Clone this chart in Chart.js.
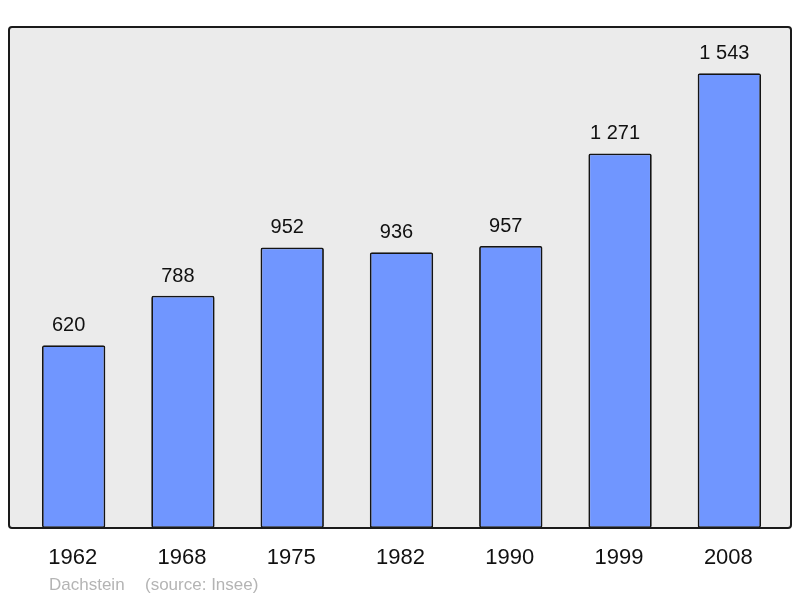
<!DOCTYPE html>
<html>
<head>
<meta charset="utf-8">
<script src="https://cdn.jsdelivr.net/npm/chart.js@4/dist/chart.umd.min.js"></script>
<style>
  html, body { margin: 0; padding: 0; background: #fff; }
  #wrap { width: 800px; height: 598px; }
</style>
</head>
<body>
<div id="wrap"><canvas id="myChart" width="800" height="598"></canvas></div>
<script>
let years = ['1962', '1968', '1975', '1982', '1990', '1999', '2008'];
let population = [620, 788, 952, 936, 957, 1271, 1543];
let yMax = 1700;

function formatNumber(n) {
  return String(n).replace(/\B(?=(\d{3})+(?!\d))/g, ' ');
}

// grey box behind the bars and its frame
const boxPlugin = {
  id: 'box',
  beforeDatasetsDraw(chart) {
    let a = chart.chartArea;
    let ctx = chart.ctx;
    ctx.save();
    ctx.beginPath();
    ctx.roundRect(a.left - 10, a.top, a.right - a.left + 17, a.bottom - a.top, 3);
    ctx.fillStyle = '#ebebeb';
    ctx.fill();
    ctx.restore();
  },
  afterDatasetsDraw(chart) {
    let a = chart.chartArea;
    let ctx = chart.ctx;
    let meta = chart.getDatasetMeta(0);
    ctx.save();
    ctx.beginPath();
    ctx.roundRect(a.left - 10, a.top, a.right - a.left + 17, a.bottom - a.top, 3);
    ctx.lineWidth = 2;
    ctx.strokeStyle = '#1a1a1a';
    ctx.stroke();

    // values above bars
    ctx.fillStyle = '#111';
    ctx.font = '20px "Liberation Sans", Arial, sans-serif';
    ctx.textAlign = 'center';
    ctx.textBaseline = 'alphabetic';
    meta.data.forEach((bar, i) => {
      ctx.fillText(formatNumber(population[i]), bar.x - 5, bar.y - 14);
    });

    // year labels
    ctx.font = '22px "Liberation Sans", Arial, sans-serif';
    let xs = chart.scales.x;
    years.forEach((y, i) => {
      ctx.fillText(y, xs.getPixelForValue(i) - 1, a.bottom + 36);
    });

    // footer
    ctx.fillStyle = '#b4b4b4';
    ctx.font = '17px "Liberation Sans", Arial, sans-serif';
    ctx.textAlign = 'left';
    ctx.fillText('Dachstein', 49, a.bottom + 62);
    ctx.fillText('(source: Insee)', 145, a.bottom + 62);
    ctx.restore();
  }
};

const ctx = document.getElementById('myChart');

new Chart(ctx, {
  type: 'bar',
  data: {
    labels: years,
    datasets: [{
      data: population,
      backgroundColor: '#7096ff',
      borderColor: '#141414',
      borderWidth: 1.8,
      borderRadius: 2,
      borderSkipped: false,
      barPercentage: 0.58,
      categoryPercentage: 1
    }]
  },
  options: {
    responsive: false,
    animation: false,
    layout: { padding: { left: 19, right: 16, top: 27, bottom: 70 } },
    plugins: {
      legend: { display: false },
      tooltip: { enabled: false }
    },
    scales: {
      x: { display: false },
      y: { display: false, min: 0, max: yMax }
    }
  },
  plugins: [boxPlugin]
});
</script>
</body>
</html>
